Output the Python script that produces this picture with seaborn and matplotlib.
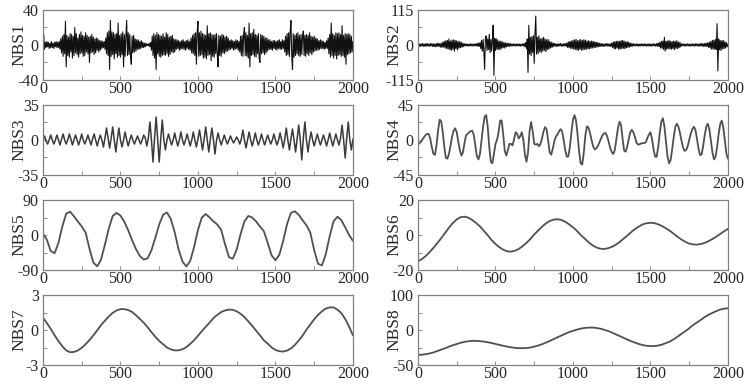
import numpy as np
import matplotlib
matplotlib.use('Agg')
import matplotlib.pyplot as plt
from matplotlib.ticker import MultipleLocator, FixedLocator
import seaborn as sns

sns.set_theme(style='ticks')
plt.rcParams['font.family'] = ['Liberation Serif', 'DejaVu Serif']

# values: NBS1-2 every 5 points, NBS3-4 every 10, NBS5-8 every 25
nbs1 = [0, 12, -5, 3, -3, 4, -2, 3, -4, 2, -3, 4, -3, 2, -4, 3, -2, 4, -3, 3,
        -3, 4, -5, 7, -9, 10, -13, 12, -10, 27, -25, 11, -12, 9, -14, 13, -8, 12, -15, 10,
        -12, 20, -9, 13, -11, 8, -14, 12, -10, 15, -9, 11, -13, 10, -12, 14, -8, 11, -10, 9,
        -20, 10, -9, 12, -8, 9, -11, 7, -9, 8, -6, 7, -8, 5, -6, 5, -4, 4, -3, 4,
        -5, 8, -10, 14, -12, 16, -28, 28, -13, 15, -11, 14, -16, 12, -10, 13, -14, 25, -12, 11,
        -14, 13, -11, 15, -25, 12, -13, 10, 28, -12, 14, -11, 12, -13, -22, 10, -9, 11, -8, 7,
        -7, 6, -5, 6, -5, 4, -4, 5, -3, 3, -3, 2, -2, 2, -1, 1, -1, 2, -2, 3,
        -6, 10, -12, 13, -15, 11, -28, 14, -10, 12, -13, 11, -14, 10, -12, 13, -11, 9, -12, 14,
        -10, 12, -13, 9, -11, 10, -8, 11, -9, 7, -8, 6, -5, 6, -4, 5, -6, 4, -5, 5,
        -4, 6, -5, 4, -6, 5, -4, 6, -5, 4, -6, 8, -9, 11, -10, 13, -12, 14, -22, 15,
        27, -13, 14, -12, 16, -11, 13, -15, 12, -14, 11, -16, 22, -12, 13, -11, 14, -18, 12, -13,
        11, -14, 12, -10, 13, -12, -25, 11, -12, 10, -13, 12, -9, 11, -10, 9, -8, 10, -7, 8,
        -6, 5, -5, 6, -4, 5, -6, 4, -5, 6, -4, 5, -6, 4, -8, 10, -12, 11, -13, 12,
        20, -12, 14, -13, 11, -15, 25, -25, 13, -12, 14, -11, 18, -13, 12, -14, 11, -10, 13, -15,
        -20, 12, -10, 11, -9, 10, -11, 8, -9, 8, -7, 6, -5, 6, -5, 4, -6, 5, -4, 5,
        -5, 4, -6, 5, -4, 6, -5, 4, -5, 6, -4, 5, -8, 10, -12, 13, -11, 14, -13, 15,
        28, -12, -28, 13, -14, 11, -12, 13, -10, 14, -12, 11, -13, 12, -11, 10, 16, -12, 11, -13,
        12, -10, 11, -12, 14, -9, 10, -11, 9, -8, 10, -7, 8, -6, 7, -6, 5, -5, 6, -4,
        5, -4, 4, -5, 3, -4, 5, -4, 8, -10, 12, -14, 25, -12, 13, -15, 11, -12, 14, -16,
        13, -12, 14, -11, 12, -13, 22, -12, 11, -14, 13, -22, 12, -11, 13, -10, 12, -9, 10, -8,
        4]

nbs2 = [2, -4, 3, -5, 4, -3, 5, -4, 3, -5, 4, -3, 5, -4, 3, -4, 5, -3, 4, -5,
        4, -5, 3, -6, 5, -4, 6, -5, 4, -7, 6, -8, 9, -7, 12, -10, 14, -12, 15, -13,
        20, -15, 13, -18, 16, -14, 17, -20, 15, -12, 14, -16, 11, -10, 12, -9, 8, -7, 6, -5,
        4, -3, 4, -3, 3, -4, 3, -3, 4, -3, 3, -4, 3, -3, 4, -3, 5, -4, 6, -5,
        8, -12, 15, -20, 18, -22, -80, 25, 30, -18, 20, -15, 35, -25, 18, -20, 15, 65, -100, 22,
        -18, 20, -15, 17, -14, 12, -15, 13, -11, 10, -9, 8, -10, 7, -6, 6, -5, 5, -4, 5,
        -4, 3, -3, 4, -3, 3, -4, 3, -3, 4, -3, 3, -4, 3, -3, 4, -3, 5, -6, 8,
        -12, 20, -90, 65, -30, 25, -35, 28, -25, 30, -60, 40, 95, -30, 25, -28, 30, -22, 20, -25,
        22, -20, 25, -18, 20, -22, 17, -15, 18, -14, 12, -10, 9, -8, 7, -5, 5, -4, 4, -5,
        3, -4, 4, -3, 5, -4, 3, -4, 4, -3, 5, -4, 6, -8, 10, -9, 12, -11, 13, -12,
        15, -13, 17, -15, 18, -16, 14, -18, 16, -14, 18, -17, 15, -16, 17, -14, 16, -15, 13, -12,
        14, -13, 12, -11, 13, -10, 12, -9, 10, -8, 9, -7, 8, -6, 6, -5, 5, -4, 4, -5,
        3, -4, 4, -3, 5, -4, 3, -4, 4, -5, 6, -8, 10, -12, 11, -13, 12, -10, 13, -14,
        12, -13, 14, -12, 15, -11, 13, -12, 10, -9, 11, -8, 9, -7, 6, -5, 5, -4, 4, -3,
        3, -3, 4, -3, 3, -4, 3, -3, 4, -3, 3, -3, 4, -3, 3, -4, 3, -3, 4, -3,
        3, -4, 3, -3, 4, -3, 3, -4, 5, -4, 6, -5, 8, -10, 12, -11, 13, -15, 25, -20,
        12, -14, 13, -12, 15, -13, 12, -14, 11, -12, 13, -15, 12, -11, 14, -12, 10, -9, 8, -6,
        4, -3, 4, -3, 3, -4, 3, -3, 4, -3, 3, -4, 3, -3, 4, -3, 3, -4, 4, -3,
        4, -3, 3, -4, 4, -3, 5, -4, 4, -5, 5, -4, 6, -5, 7, -8, 9, -10, 12, -14,
        15, -13, 16, -14, 18, -15, 70, -85, 20, -16, 15, -18, 14, -13, 15, -12, 11, -10, 8, -6,
        3]

nbs3 = [0, 4, -1, -4, 0, 5, 0, -4, 0, 5, 0, -5, 1, 6, 0, -4, 0, 6, 1, -5,
        0, 5, 0, -5, 0, 6, 0, -4, 0, 5, 0, -5, 1, 6, 0, -6, 0, 5, 0, -7,
        2, 12, 2, -8, 2, 13, 0, -12, 1, 12, 0, -7, 0, 8, 0, -6, 0, 5, 0, -4,
        0, 4, 0, -4, 0, 5, 2, -6, 2, 18, 0, -22, 2, 23, 0, -22, 1, 20, 0, -10,
        0, 6, 0, -5, 0, 7, 0, -6, 0, 8, 0, -5, 0, 6, 0, -6, 0, 8, 0, -7,
        1, 10, 0, -10, 1, 13, 0, -12, 1, 12, 0, -14, 0, 7, 0, -5, 0, 5, 0, -4,
        0, 4, 0, -3, 0, 3, 0, -4, 1, 10, 0, -8, 0, 8, 0, -6, 0, 7, 0, -5,
        0, 6, 0, -5, 0, 5, 0, -4, 0, 6, 0, -5, 0, 7, 0, -8, 1, 12, 0, -10,
        1, 11, 0, -12, 1, 15, 0, -20, 2, 18, 0, -12, 0, 8, 0, -6, 0, 6, 0, -5,
        0, 5, 0, -6, 0, 7, 0, -6, 0, 6, 0, -5, 2, 15, 0, -18, 2, 18, 0, -10,
        1]

nbs4 = [-6, -4, -2, 1, 4, 6.5, 8, 7.6, 1, -10,
        -18, -19, -6, 13, 26, 24, 10, -9, -23, -24,
        -18, -7, 4, 12, 15, 10, -2, -13, -20, -16,
        -4, 6, 8, 10, 11.5, 12, 6.5, -7, -20.5, -25,
        -18, -1, 17, 30, 32, 17, -9, -28, -30, -18,
        -5, 0, 10, 25, 25, 7, -14, -20, -13, -5,
        -5, -7, 1, 10, 8, 2, 5, 10, 0, -18.5,
        -28, -16, 11, 23, 11.5, -5, -6, -5, -8, -5.5,
        2, 11, 16.5, 14, -1, -16, -18.8, -11, -1.5, 4.5,
        7, 11, 14, 11, 0, -13, -21.5, -21, -9, 10,
        26, 32, 25, 6.5, -15.5, -30, -31.5, -16, 6, 17.5,
        16, 9, 0, -8, -12, -11, -8, -3.5, 1.5, 6,
        8.5, 9, 5, -2, -10, -15.5, -18, -13, 1, 15,
        23.5, 19.5, 2, -13.5, -15, -8.5, 1.5, 10, 13, 10,
        3.5, -3.5, -6, -5.5, -4.5, -4, -4, -3, 2.5, 7,
        10, 1.5, -12, -21.5, -21.5, -9, 9, 23.5, 28, 17.5,
        -1.5, -21, -30, -26, -12, 3.5, 16.5, 21, 17.5, 9.5,
        -0.5, -9.5, -14, -13, -8, 0, 8, 14, 17, 13,
        2, -11, -19.5, -18.5, -8, 6, 17, 21, 14, -1.5,
        -16, -25, -21.5, -9, 7.5, 20.5, 25, 16.5, 0, -17.5,
        -24]

nbs5 = [4, -12, -41, -47, -20, 22, 55, 60, 48, 35,
        22, 6.5, -35, -71, -80.5, -63, -24, 17, 49, 57,
        50, 34, 12, -13, -36, -54, -63, -60, -39, -7,
        27, 52, 58, 41, 7, -37, -68, -81, -67, -31,
        13, 45, 54, 45, 35, 27, 13, -24, -57, -61,
        -37, 2, 35, 49, 45, 35, 22, 10, -20, -52,
        -65, -51, -15, 28, 57, 61, 52, 38, 25, 6,
        -39, -74, -78, -49, -3, 35, 47, 38, 20, 0,
        -15]

nbs6 = [-15, -13.8, -12, -9.8, -7.3, -4.6, -1.8, 1.2, 4.2, 6.9,
        8.9, 10.2, 10.5, 9.9, 8.6, 6.9, 4.9, 2.4, -0.1, -2.9,
        -5.1, -7, -8.4, -9.3, -9.5, -9, -8, -6.4, -4.5, -2.3,
        0.3, 2.5, 4.7, 6.6, 8, 8.8, 9, 8.6, 7.6, 6.1,
        4.4, 2.4, 0, -2, -4.1, -5.8, -7.1, -7.8, -8, -7.6,
        -6.8, -5.6, -4.1, -2.2, -0.4, 1.6, 3.4, 4.8, 6.1, 6.7,
        7, 6.8, 6.1, 5.1, 3.8, 2.4, 0.7, -1, -2.6, -3.9,
        -4.9, -5.4, -5.5, -5.2, -4.5, -3.5, -2.3, -0.9, 0.6, 2.1,
        3.5]

nbs7 = [1.05, 0.6, 0.1, -0.45, -0.95, -1.4, -1.75, -1.9, -1.88, -1.75,
        -1.53, -1.22, -0.86, -0.46, -0.03, 0.43, 0.8, 1.17, 1.47, 1.68,
        1.79, 1.79, 1.71, 1.55, 1.27, 0.95, 0.63, 0.24, -0.19, -0.58,
        -0.93, -1.22, -1.5, -1.66, -1.75, -1.74, -1.65, -1.47, -1.19, -0.88,
        -0.49, -0.1, 0.28, 0.63, 1.02, 1.3, 1.54, 1.68, 1.75, 1.73,
        1.6, 1.39, 1.1, 0.74, 0.35, -0.05, -0.45, -0.88, -1.17, -1.49,
        -1.71, -1.82, -1.85, -1.76, -1.58, -1.28, -0.9, -0.48, 0.03, 0.47,
        0.92, 1.3, 1.6, 1.84, 1.94, 1.93, 1.75, 1.45, 0.95, 0.3,
        -0.45]

nbs8 = [-71, -70.5, -69, -67, -64, -60, -56, -52, -47.5, -43.5,
        -40, -36.5, -34, -32, -31, -31, -32, -33, -35, -37.3,
        -39.8, -42.5, -45, -47.4, -49.3, -51, -51.8, -52, -51.4, -50,
        -47.5, -44.3, -40.8, -36, -31.4, -26, -20.7, -16, -10.7, -6,
        -2.4, 1, 4, 5.8, 6.8, 7, 6, 4, 1, -2.5,
        -7, -12, -17, -22, -27, -32, -36, -40, -43, -45,
        -46, -45.8, -44.3, -41.6, -37.3, -33, -26.5, -19, -11, -3.5,
        5, 14, 21.6, 29, 37, 43.5, 49, 54, 58.6, 61,
        62]

names = ['NBS1', 'NBS2', 'NBS3', 'NBS4', 'NBS5', 'NBS6', 'NBS7', 'NBS8']
series = [nbs1, nbs2, nbs3, nbs4, nbs5, nbs6, nbs7, nbs8]
ylims = [40, 115, 35, 45, 90, 20, 3, 100]
ylabels_txt = [['-40', '0', '40'], ['-115', '0', '115'], ['-35', '0', '35'], ['-45', '0', '45'],
               ['-90', '0', '90'], ['-20', '0', '20'], ['-3', '0', '3'], ['-50', '0', '100']]
colors = ['#111111', '#111111', '#3a3a3a', '#505050', '#505050', '#505050', '#505050', '#505050']
widths = [0.8, 0.8, 1.1, 1.3, 1.3, 1.3, 1.3, 1.3]

fig = plt.figure(figsize=(7.46, 3.87), dpi=100)
lefts = [0.0576, 0.5603]
bottoms = [0.7933, 0.5478, 0.3023, 0.0568]
w, h = 0.4155, 0.1809

for i in range(8):
    ax = fig.add_axes([lefts[i % 2], bottoms[i // 2], w, h])
    vals = series[i]
    x = np.linspace(0, 2000, len(vals))
    sns.lineplot(x=x, y=vals, ax=ax, color=colors[i], linewidth=widths[i])
    for ln in ax.get_lines():
        ln.set_solid_joinstyle('round')
    hi = ylims[i]
    ax.set_xlim(0, 2000)
    ax.set_ylim(-hi, hi)
    ax.set_yticks([-hi, 0, hi])
    ax.set_yticklabels(ylabels_txt[i])
    ax.yaxis.set_minor_locator(FixedLocator([-hi / 2, hi / 2]))
    ax.xaxis.set_major_locator(MultipleLocator(500))
    ax.xaxis.set_minor_locator(MultipleLocator(250))
    ax.tick_params(which='both', direction='in', length=3, width=0.6, color='#808080',
                   labelsize=11.5, top=False, right=False)
    ax.tick_params(axis='x', pad=1)
    ax.tick_params(axis='y', pad=3)
    ax.set_xlabel('')
    ax.set_ylabel(names[i], fontsize=12.5, labelpad=0)
    ax.yaxis.set_label_coords(-0.05, 0.5)
    for sp in ax.spines.values():
        sp.set_visible(True)
        sp.set_color('#808080')
        sp.set_linewidth(0.9)

plt.savefig('out.png', dpi=100)
